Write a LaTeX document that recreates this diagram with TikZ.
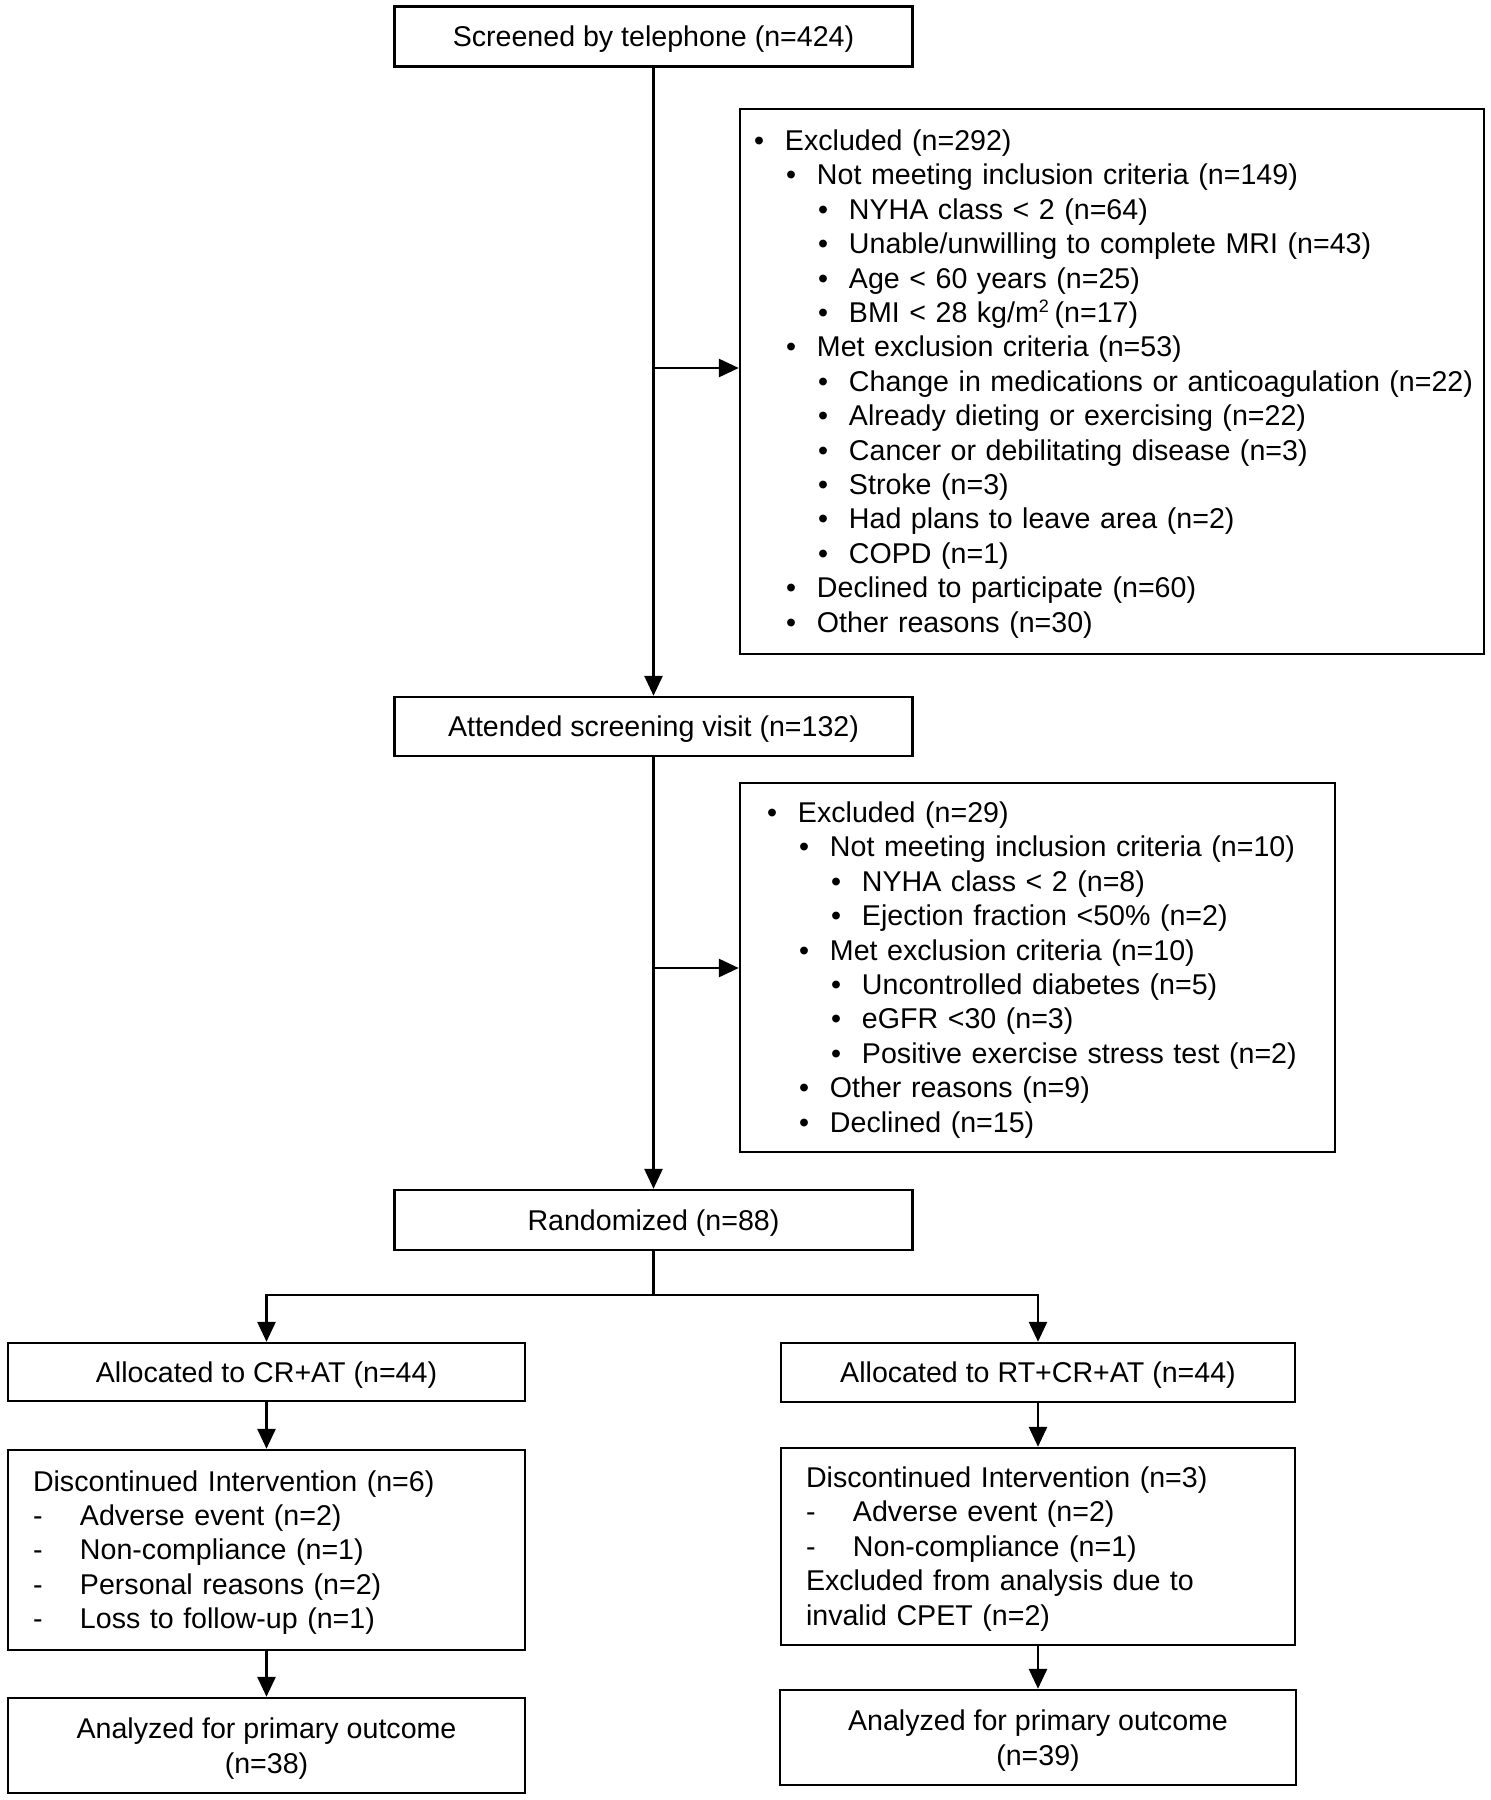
\documentclass[tikz,border=0pt]{standalone}
\usepackage{fontspec}
\setmainfont{Liberation Sans}
\usetikzlibrary{arrows.meta}
\newcommand{\bl}[2]{\mbox{\hspace*{#1}\makebox[15.5pt][l]{\textbullet}#2}}
\newcommand{\dl}[1]{\mbox{\makebox[23.5pt][l]{-}#1}}
\begin{document}
\begin{tikzpicture}[x=0.5pt,y=-0.5pt,
  every node/.style={font=\fontsize{14.3}{17.2}\selectfont},
  box/.style={draw, line width=1.2pt, inner sep=0pt, align=center, text depth=0pt},
  lbox/.style={draw, line width=1.2pt, inner ysep=0pt, align=left},
  arr/.style={line width=1.4pt, -{Triangle[length=10pt,width=9pt]}},
  ln/.style={line width=1.4pt}]
\useasboundingbox (0,0) rectangle (1490,1800);

\node[box, minimum width=259pt, minimum height=30pt] (scr) at (653.5,36.5) {Screened by telephone (n=424)};
\node[box, minimum width=259pt, minimum height=29.5pt] (att) at (653.5,726.5) {Attended screening visit (n=132)};
\node[box, minimum width=259pt, minimum height=30pt] (ran) at (653.5,1220) {Randomized (n=88)};

\node[lbox, text width=358pt, inner xsep=7pt, minimum height=272.5pt, text depth=241.3pt] (ex1) at (1112,381.5) {%
\bl{0pt}{Excluded (n=292)}\\
\bl{16pt}{Not meeting inclusion criteria (n=149)}\\
\bl{32pt}{NYHA class < 2 (n=64)}\\
\bl{32pt}{Unable/unwilling to complete MRI (n=43)}\\
\bl{32pt}{Age < 60 years (n=25)}\\
\bl{32pt}{BMI < 28 kg/m\textsuperscript{\small 2}\,(n=17)}\\
\bl{16pt}{Met exclusion criteria (n=53)}\\
\bl{32pt}{Change in medications or anticoagulation (n=22)}\\
\bl{32pt}{Already dieting or exercising (n=22)}\\
\bl{32pt}{Cancer or debilitating disease (n=3)}\\
\bl{32pt}{Stroke (n=3)}\\
\bl{32pt}{Had plans to leave area (n=2)}\\
\bl{32pt}{COPD (n=1)}\\
\bl{16pt}{Declined to participate (n=60)}\\
\bl{16pt}{Other reasons (n=30)}};

\node[lbox, text width=270.5pt, inner xsep=13.5pt, minimum height=184.5pt, text depth=155.3pt] (ex2) at (1037.5,967.5) {%
\bl{0pt}{Excluded (n=29)}\\
\bl{16pt}{Not meeting inclusion criteria (n=10)}\\
\bl{32pt}{NYHA class < 2 (n=8)}\\
\bl{32pt}{Ejection fraction <50\% (n=2)}\\
\bl{16pt}{Met exclusion criteria (n=10)}\\
\bl{32pt}{Uncontrolled diabetes (n=5)}\\
\bl{32pt}{eGFR <30 (n=3)}\\
\bl{32pt}{Positive exercise stress test (n=2)}\\
\bl{16pt}{Other reasons (n=9)}\\
\bl{16pt}{Declined (n=15)}};

\node[box, minimum width=258.5pt, minimum height=29pt] (alA) at (266.5,1372) {Allocated to CR+AT (n=44)};
\node[box, minimum width=257pt, minimum height=29.5pt] (alB) at (1038,1372.5) {Allocated to RT+CR+AT (n=44)};

\node[lbox, text width=233.5pt, inner xsep=12.5pt, minimum height=100pt, text depth=69.3pt] (diA) at (266.5,1550) {%
Discontinued Intervention (n=6)\\
\dl{Adverse event (n=2)}\\
\dl{Non-compliance (n=1)}\\
\dl{Personal reasons (n=2)}\\
\dl{Loss to follow-up (n=1)}};
\node[lbox, text width=232pt, inner xsep=12.5pt, minimum height=98.5pt, text depth=69.3pt] (diB) at (1038,1546.5) {%
Discontinued Intervention (n=3)\\
\dl{Adverse event (n=2)}\\
\dl{Non-compliance (n=1)}\\
Excluded from analysis due to\\
invalid CPET (n=2)};

\node[box, minimum width=258.5pt, minimum height=47.5pt] (anA) at (266.5,1745.5) {Analyzed for primary outcome\\(n=38)};
\node[box, minimum width=258pt, minimum height=47.5pt] (anB) at (1038,1737.5) {Analyzed for primary outcome\\(n=39)};

\draw[arr] (scr) -- (att);
\coordinate (j1) at (653.5,368);
\draw[arr] (j1) -- (j1 -| ex1.west);
\draw[arr] (att) -- (ran);
\coordinate (j2) at (653.5,968);
\draw[arr] (j2) -- (j2 -| ex2.west);
\coordinate (br) at (653.5,1295);
\draw[ln] (ran.south) -- (br);
\draw[arr] (br) -| (alA.north);
\draw[arr] (br) -| (alB.north);
\draw[arr] (alA) -- (diA);
\draw[arr] (diA) -- (anA);
\draw[arr] (alB) -- (diB);
\draw[arr] (diB) -- (anB);
\end{tikzpicture}
\end{document}
